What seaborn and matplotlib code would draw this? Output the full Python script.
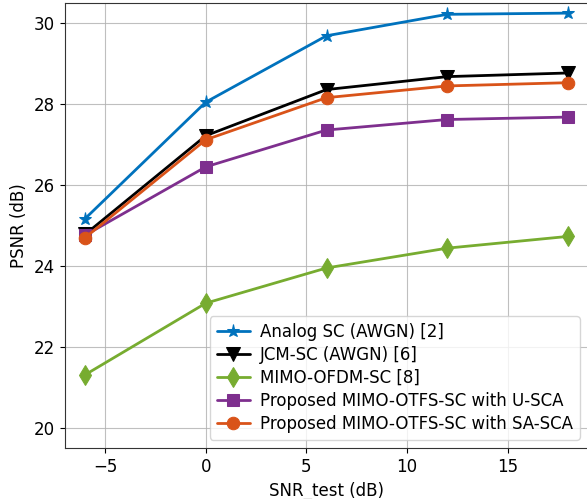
import matplotlib
matplotlib.use("Agg")
import matplotlib.pyplot as plt
import seaborn as sns
import pandas as pd

snr = [-6, 0, 6, 12, 18]
analog_sc = [25.17, 28.05, 29.69, 30.22, 30.25]
jcm_sc = [24.78, 27.22, 28.36, 28.68, 28.77]
mimo_ofdm = [21.31, 23.08, 23.95, 24.44, 24.73]
otfs_usca = [24.76, 26.45, 27.36, 27.62, 27.68]
otfs_sasca = [24.70, 27.12, 28.16, 28.45, 28.53]

labels = ["Analog SC (AWGN) [2]", "JCM-SC (AWGN) [6]", "MIMO-OFDM-SC [8]",
          "Proposed MIMO-OTFS-SC with U-SCA", "Proposed MIMO-OTFS-SC with SA-SCA"]
series = [analog_sc, jcm_sc, mimo_ofdm, otfs_usca, otfs_sasca]
colors = ["#0072BD", "#000000", "#77AC30", "#7E2F8E", "#D95319"]
markers = ["*", "v", "d", "s", "o"]
msizes = [9.5, 10, 10, 9, 9]

sns.set_style("ticks")
plt.rcParams['font.family'] = ['DejaVu Sans']
plt.rcParams.update({"text.color": "black", "axes.labelcolor": "black",
                     "xtick.color": "black", "ytick.color": "black",
                     "axes.edgecolor": "#333333"})
fig = plt.figure(figsize=(5.87, 4.99), dpi=100)
ax = fig.add_axes([65/587, 51/499, 523/587, 445/499])

for lab, vals, c, m, ms in zip(labels, series, colors, markers, msizes):
    df = pd.DataFrame({"x": snr, "y": vals})
    sns.lineplot(data=df, x="x", y="y", ax=ax, color=c, marker=m, markersize=ms,
                 linewidth=2, markeredgecolor=c, label=lab)

ax.set_xlim(-7, 19)
ax.set_ylim(19.5, 30.5)
ax.set_xticks([-5, 0, 5, 10, 15])
ax.set_yticks([20, 22, 24, 26, 28, 30])
ax.grid(True, color="#b0b0b0", linewidth=0.8, alpha=0.8)
ax.tick_params(labelsize=12, length=3.5)
ax.set_xlabel("SNR_test (dB)", fontsize=12)
ax.set_ylabel("PSNR (dB)", fontsize=12)
ax.legend(loc="lower right", fontsize=12, framealpha=0.8, borderaxespad=0.5,
          labelspacing=0.3, handlelength=2.0, handletextpad=0.6)
fig.savefig("out.png", dpi=100)
